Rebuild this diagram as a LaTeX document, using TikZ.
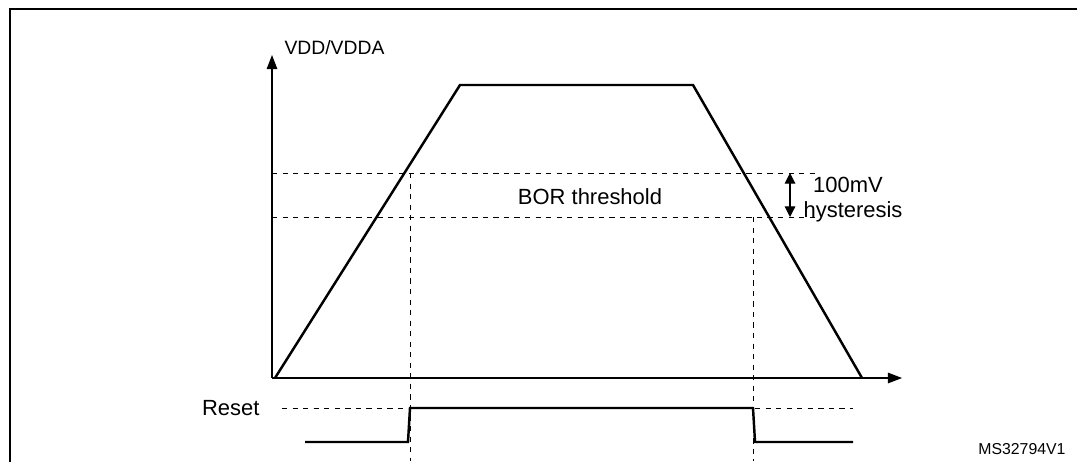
\documentclass[tikz,border=0pt]{standalone}
\usepackage{fontspec}
\setmainfont{Liberation Sans}
\usetikzlibrary{arrows.meta}
\begin{document}
\begin{tikzpicture}[x=0.02cm,y=-0.02cm,
                    thick,sig/.style={line width=1.4pt},
                    lvl/.style={thin,dashed},
                    ax/.style={semithick,-{Triangle[length=8pt,width=6pt]}},
                    lbl/.style={font=\fontsize{12.5}{14}\selectfont}
                   ]
   \useasboundingbox (0,0) rectangle (1077,461);
   \draw[semithick] (10,470) -- (10,9) -- (1090,9);

   \coordinate (o) at (272,378);
   \coordinate (ytop) at (272,55);
   \coordinate (xend) at (902,378);
   \node[font=\fontsize{11}{13}\selectfont,anchor=west] (vdd) at (278,48) {VDD/VDDA};
   \draw[ax] (o) -- (ytop);
   \draw[ax] (o) -- (xend);

   % supply curve
   \coordinate (p0) at (275,378);
   \coordinate (p1) at (460,85);
   \coordinate (p2) at (693,85);
   \coordinate (p3) at (862,378);
   \draw[sig] (p0) -- (p1) -- (p2) -- (p3);

   % thresholds
   \coordinate (hiL) at (272,173); \coordinate (hiR) at (815,173);
   \coordinate (loL) at (272,217); \coordinate (loR) at (815,217);
   \draw[lvl] (hiL) -- (hiR);
   \draw[lvl] (loL) -- (loR);
   \node[lbl] (bor) at (590,197) {BOR threshold};
   \coordinate (hA) at (790,173); \coordinate (hB) at (790,217);
   \draw[semithick,{Triangle[length=6pt,width=6pt]}-{Triangle[length=6pt,width=6pt]}] (hA) -- (hB);
   \node[lbl] (mv) at (848,185) {100mV};
   \node[lbl] (hys) at (853,212) {hysteresis};

   % reset
   \coordinate (v1t) at (410,173); \coordinate (v1b) at (410,461);
   \coordinate (v2t) at (753,217); \coordinate (v2b) at (753,461);
   \draw[lvl] (v1t) -- (v1b);
   \draw[lvl] (v2t) -- (v2b);
   \node[lbl,anchor=east] (rst) at (266,408) {Reset};
   \coordinate (rd1) at (282,408); \coordinate (rd2) at (410,408);
   \coordinate (rd3) at (755,408); \coordinate (rd4) at (853,408);
   \draw[lvl] (rd1) -- (rd2);
   \draw[lvl] (rd3) -- (rd4);
   \coordinate (r0) at (305,442); \coordinate (r1) at (408,442);
   \coordinate (r2) at (410,408); \coordinate (r3) at (753,408);
   \coordinate (r4) at (755,442); \coordinate (r5) at (853,442);
   \draw[sig] (r0) -- (r1) -- (r2) -- (r3) -- (r4) -- (r5);

   \node[font=\fontsize{9}{10}\selectfont,anchor=east] (ref) at (1072,449) {MS32794V1};
\end{tikzpicture}
\end{document}
